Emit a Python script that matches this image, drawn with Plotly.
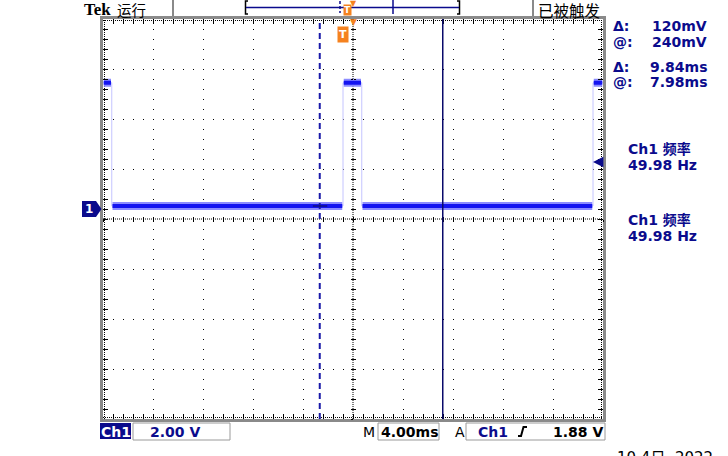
import plotly.graph_objects as go

# ---------------- data ----------------
T_RANGE = [-19.2, 20.8]          # ms, trigger at 0
V_RANGE = [-8.4, 7.6]            # volts (2 V/div, ground 0.2 div above centre)
MS_PER_DIV = 4.0
V_PER_DIV = 2.0
EDGE_TIMES = [-18.5, 0.0, 1.5, 20.0]   # ms, transitions of the square wave
LEVEL_HIGH = 5.05
LEVEL_LOW = 0.12
START_HIGH = True
CURSOR_TIMES = [-1.86, 7.98]     # ms
TRIG_LEVEL = 1.88                # V
TRIG_TIME = 0.0
H_POSITION = 0.8                 # ms (screen centre)

READOUT_LABELS = ["Δ:", "@:", "Δ:", "@:"]
READOUT_VALUES = ["120mV", "240mV", "9.84ms", "7.98ms"]
MEAS_TITLES = ["Ch1 频率", "Ch1 频率"]
MEAS_VALUES = ["49.98 Hz", "49.98 Hz"]
STATUS_LEFT = "运行"
STATUS_RIGHT = "已被触发"
CH_LABEL = "Ch1"
CH_SCALE = "2.00 V"
TIME_SCALE = "4.00ms"
TRIG_SRC = "Ch1"
TRIG_TEXT = "1.88 V"
DATE_TEXT = "10 4日  2022"

# ---------------- layout geometry ----------------
W, H = 728, 456
PL, PR, PT, PB = 103, 603, 19, 419
NAVY = "#0b0b8c"
ORANGE = "#f5821f"
GRAY = "#8a8a8a"
FONT = "DejaVu Sans, Noto Sans CJK SC, sans-serif"


def px(x):
    return (x - PL) / (PR - PL)


def py(y):
    return (PB - y) / (PB - PT)


# ---------------- waveform ----------------
levels = [LEVEL_HIGH, LEVEL_LOW] if START_HIGH else [LEVEL_LOW, LEVEL_HIGH]
bounds = [T_RANGE[0]] + EDGE_TIMES + [T_RANGE[1]]
step_x, step_y = [], []
flat_x, flat_y = [], []
for i in range(len(bounds) - 1):
    lvl = levels[i % 2]
    step_x += [bounds[i], bounds[i + 1]]
    step_y += [lvl, lvl]
    flat_x += [bounds[i] + 0.06, bounds[i + 1] - 0.06, None]
    flat_y += [lvl, lvl, None]

fig = go.Figure()
fig.add_trace(go.Scatter(x=step_x, y=step_y, mode="lines",
                         line=dict(color="#c4c4ff", width=1),
                         hoverinfo="skip", showlegend=False))
fig.add_trace(go.Scatter(x=flat_x, y=flat_y, mode="lines",
                         line=dict(color="#8c8cff", width=8),
                         hoverinfo="skip", showlegend=False))
fig.add_trace(go.Scatter(x=flat_x, y=flat_y, mode="lines",
                         line=dict(color="#1414f0", width=4),
                         hoverinfo="skip", showlegend=False))
# dummy traces so the centre tick axes are drawn
for xa, ya in [("x2", "y"), ("x3", "y"), ("x", "y2"), ("x", "y3")]:
    fig.add_trace(go.Scatter(x=[T_RANGE[0]], y=[V_RANGE[0]], xaxis=xa, yaxis=ya,
                             mode="markers", marker=dict(opacity=0),
                             hoverinfo="skip", showlegend=False))

axis_common = dict(showgrid=True, gridcolor="black", gridwidth=1, griddash="1px,9px",
                   zeroline=False, showline=True, linecolor=GRAY, linewidth=3,
                   mirror="allticks", ticks="inside", ticklen=5, tickcolor="black",
                   tickwidth=1, showticklabels=False, fixedrange=True)
center_common = dict(showgrid=False, zeroline=False, showline=False,
                     ticklen=2, tickcolor="black", tickwidth=1,
                     showticklabels=False, fixedrange=True, anchor="free", position=0.5)

fig.update_layout(
    width=W, height=H,
    margin=dict(l=PL, r=W - PR, t=PT, b=H - PB),
    paper_bgcolor="white", plot_bgcolor="white",
    xaxis=dict(range=T_RANGE, tick0=T_RANGE[0], dtick=MS_PER_DIV,
               minor=dict(tick0=T_RANGE[0], dtick=MS_PER_DIV / 5, ticks="inside",
                          ticklen=2, tickcolor="black", showgrid=False),
               **axis_common),
    yaxis=dict(range=V_RANGE, tick0=V_RANGE[0], dtick=V_PER_DIV,
               minor=dict(tick0=V_RANGE[0], dtick=V_PER_DIV / 5, ticks="inside",
                          ticklen=2, tickcolor="black", showgrid=False),
               **axis_common),
    xaxis2=dict(overlaying="x", range=T_RANGE, tick0=T_RANGE[0], dtick=MS_PER_DIV / 5,
                ticks="outside", **center_common),
    xaxis3=dict(overlaying="x", range=T_RANGE, tick0=T_RANGE[0], dtick=MS_PER_DIV / 5,
                ticks="inside", **center_common),
    yaxis2=dict(overlaying="y", range=V_RANGE, tick0=V_RANGE[0], dtick=V_PER_DIV / 5,
                ticks="outside", **center_common),
    yaxis3=dict(overlaying="y", range=V_RANGE, tick0=V_RANGE[0], dtick=V_PER_DIV / 5,
                ticks="inside", **center_common),
)

shapes = []
# centre crosshair (dense dotted)
shapes.append(dict(type="line", xref="paper", yref="paper", x0=0.5, x1=0.5, y0=0, y1=1,
                   line=dict(color="black", width=1, dash="1px,1px"), layer="below"))
shapes.append(dict(type="line", xref="paper", yref="paper", x0=0, x1=1, y0=0.5, y1=0.5,
                   line=dict(color="black", width=1, dash="1px,1px"), layer="below"))
# dotted rulers along the edges
e = 1.5
for (x0, x1, y0, y1) in [(px(PL + e), px(PL + e), 0, 1), (px(PR - e), px(PR - e), 0, 1),
                         (0, 1, py(PT + e), py(PT + e)), (0, 1, py(PB - e), py(PB - e))]:
    shapes.append(dict(type="line", xref="paper", yref="paper", x0=x0, x1=x1, y0=y0, y1=y1,
                       line=dict(color="black", width=1, dash="1px,1px"), layer="below"))
# cursors
shapes.append(dict(type="line", xref="x", yref="paper", x0=CURSOR_TIMES[0], x1=CURSOR_TIMES[0],
                   y0=0, y1=1, line=dict(color="#1a1aa8", width=2, dash="6px,4px")))
shapes.append(dict(type="line", xref="x", yref="paper", x0=CURSOR_TIMES[1], x1=CURSOR_TIMES[1],
                   y0=0, y1=1, line=dict(color="#0a0a6a", width=1.5)))
shapes.append(dict(type="line", xref="x", yref="y", x0=CURSOR_TIMES[0] - 0.55,
                   x1=CURSOR_TIMES[0] + 0.6, y0=LEVEL_LOW, y1=LEVEL_LOW,
                   line=dict(color="#0a0a50", width=1)))
# ground marker (pentagon)
gy = 0.0
shapes.append(dict(type="path", xref="paper", yref="y",
                   path=(f"M{px(82)},{gy + 0.32} L{px(96)},{gy + 0.32} L{px(101.5)},{gy} "
                         f"L{px(96)},{gy - 0.32} L{px(82)},{gy - 0.32} Z"),
                   fillcolor=NAVY, line=dict(color=NAVY, width=0)))
# top status bar boxes
for xx in (173, 533):
    shapes.append(dict(type="line", xref="paper", yref="paper", x0=px(xx), x1=px(xx),
                       y0=py(0), y1=py(16), line=dict(color=GRAY, width=2)))
# record view bracket
shapes.append(dict(type="path", xref="paper", yref="paper",
                   path=f"M{px(248)},{py(1)} L{px(245.5)},{py(1)} L{px(245.5)},{py(14)} L{px(248)},{py(14)}",
                   line=dict(color="black", width=1.5)))
shapes.append(dict(type="path", xref="paper", yref="paper",
                   path=f"M{px(457)},{py(1)} L{px(459.5)},{py(1)} L{px(459.5)},{py(14)} L{px(457)},{py(14)}",
                   line=dict(color="black", width=1.5)))
shapes.append(dict(type="line", xref="paper", yref="paper", x0=px(246), x1=px(459),
                   y0=py(7.5), y1=py(7.5), line=dict(color=NAVY, width=1.5)))
shapes.append(dict(type="line", xref="paper", yref="paper", x0=px(393), x1=px(393),
                   y0=py(0), y1=py(14), line=dict(color=NAVY, width=1.5)))
shapes.append(dict(type="line", xref="paper", yref="paper", x0=px(340), x1=px(340),
                   y0=py(1), y1=py(13), line=dict(color=NAVY, width=1.5, dash="3px,2px")))
# bottom bar
shapes.append(dict(type="rect", xref="paper", yref="paper", x0=px(100), x1=px(131),
                   y0=py(423), y1=py(439), fillcolor=NAVY, line=dict(width=0)))
for (a, b) in [(133, 230), (378, 439), (466, 605)]:
    shapes.append(dict(type="rect", xref="paper", yref="paper", x0=px(a), x1=px(b),
                       y0=py(423), y1=py(440), line=dict(color="#9a9a9a", width=1)))
shapes.append(dict(type="path", xref="paper", yref="paper",
                   path=(f"M{px(518)},{py(436)} L{px(521)},{py(436)} L{px(523.5)},{py(427)} "
                         f"L{px(527)},{py(427)}"),
                   line=dict(color="black", width=2)))
fig.update_layout(shapes=shapes)

ann = []


def text(x, y, s, size=14, color="black", anchor="left", bold=False, family=FONT, **kw):
    ann.append(dict(xref="paper", yref="paper", x=px(x), y=py(y), text=(f"<b>{s}</b>" if bold else s),
                    showarrow=False, xanchor=anchor, yanchor="middle",
                    font=dict(family=family, size=size, color=color), **kw))


text(82, 9, "Tek", size=17, bold=True, family="Liberation Serif, serif")
text(115, 9.5, STATUS_LEFT, size=14.5, family="Noto Sans CJK SC, sans-serif")
text(536, 9.5, STATUS_RIGHT, size=15.5, family="Noto Sans CJK SC, sans-serif")

rows_y = [26, 42.5, 66.5, 82]
for lab, val, yy in zip(READOUT_LABELS, READOUT_VALUES, rows_y):
    text(611, yy, lab, size=14, color=NAVY, bold=True)
    text(709, yy, val, size=14, color=NAVY, bold=True, anchor="right")
for (tt, vv, y1, y2) in zip(MEAS_TITLES, MEAS_VALUES, [148.5, 220], [165, 236]):
    text(626, y1, tt, size=14, color=NAVY, bold=True)
    text(626, y2, vv, size=14, color=NAVY, bold=True)

text(115.5, 431.5, CH_LABEL, size=14, color="white", bold=True, anchor="center")
text(148, 431.5, CH_SCALE, size=14, color=NAVY, bold=True)
text(361, 431.5, "M", size=14, color="black")
text(379, 431.5, TIME_SCALE, size=14, color="black", bold=True)
text(453, 431.5, "A", size=14, color="black")
text(476, 431.5, TRIG_SRC, size=14, color=NAVY, bold=True)
text(605, 431.5, TRIG_TEXT, size=14, color="black", bold=True, anchor="right")
text(615, 458, DATE_TEXT, size=15, color="black", family="DejaVu Sans, Noto Sans CJK SC, sans-serif")

# ground marker label
ann.append(dict(xref="paper", yref="y", x=px(89), y=0.0, text="<b>1</b>", showarrow=False,
                xanchor="center", yanchor="middle",
                font=dict(family=FONT, size=12, color="white")))
# trigger level arrow on right edge
ann.append(dict(xref="x", yref="y", x=T_RANGE[1] - 0.8, y=TRIG_LEVEL, text="", showarrow=True,
                ax=10, ay=0, arrowhead=2, arrowsize=1.3, arrowwidth=1.6, arrowcolor=NAVY))
# trigger position "T" icon in graticule
ann.append(dict(xref="x", yref="paper", x=TRIG_TIME, y=py(26), text="<b>T</b>", showarrow=False,
                xanchor="center", yanchor="top", bgcolor=ORANGE, borderpad=1,
                font=dict(family=FONT, size=11, color="white")))
# horizontal position arrow at top of graticule
ann.append(dict(xref="x", yref="paper", x=H_POSITION, y=py(15.5), text="▼", showarrow=False,
                xanchor="center", yanchor="top",
                font=dict(family="DejaVu Sans", size=9, color=ORANGE)))
# top bar T icon and arrow
ann.append(dict(xref="paper", yref="paper", x=px(347), y=py(4), text="<b>T</b>", showarrow=False,
                xanchor="center", yanchor="top", bgcolor=ORANGE, borderpad=0,
                font=dict(family=FONT, size=9, color="white")))
ann.append(dict(xref="paper", yref="paper", x=px(353), y=py(-3), text="▼", showarrow=False,
                xanchor="center", yanchor="top",
                font=dict(family="DejaVu Sans", size=8, color=ORANGE)))

fig.update_layout(annotations=ann)
fig.write_html("out.html", config={"displayModeBar": False},
               post_script="document.body.style.margin='0px';document.body.style.overflow='hidden';")
